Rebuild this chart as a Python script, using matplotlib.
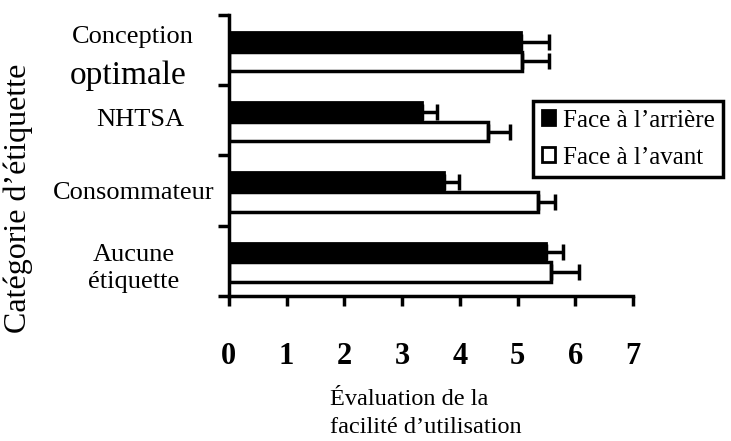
import numpy as np
import matplotlib
matplotlib.use("Agg")
import matplotlib.pyplot as plt
import matplotlib.transforms as mtransforms

plt.rcParams['font.family'] = ['Liberation Serif', 'DejaVu Serif']

# categories listed bottom to top
categories = ["Aucune\nétiquette", "Consommateur", "NHTSA", "Conception\noptimale"]
rear = [5.49, 3.72, 3.34, 5.06]
rear_err = [0.29, 0.26, 0.26, 0.49]
front = [5.58, 5.35, 4.49, 5.07]
front_err = [0.48, 0.29, 0.38, 0.48]
series_names = ["Face à l’arrière", "Face à l’avant"]
xticks = [0, 1, 2, 3, 4, 5, 6, 7]

fig = plt.figure(figsize=(7.31, 4.41), dpi=100)
ax = fig.add_axes([0.313, 0.329, 0.553, 0.637])

y = np.arange(len(categories))
h = 0.28
err_kw = dict(ecolor='black', elinewidth=2.5, capsize=6, capthick=2.5)
ax.barh(y + 0.12, rear, height=h, color='black', edgecolor='black', linewidth=2,
        xerr=[np.zeros(len(rear)), rear_err], error_kw=err_kw, label=series_names[0])
ax.barh(y - 0.16, front, height=h, color='white', edgecolor='black', linewidth=2.5,
        xerr=[np.zeros(len(front)), front_err], error_kw=err_kw, label=series_names[1])

ax.set_xlim(0, 7)
ax.set_ylim(-0.5, len(categories) - 0.5)

for s in ['top', 'right']:
    ax.spines[s].set_visible(False)
for s in ['left', 'bottom']:
    ax.spines[s].set_linewidth(2.5)

ax.set_xticks(xticks)
ax.set_xticklabels([str(t) for t in xticks], fontsize=22, fontweight='bold')
ax.tick_params(axis='x', direction='out', length=7, width=2.5, pad=26)

# tick marks sit on the group boundaries, labels are drawn as text
ax.set_yticks(np.arange(len(categories) + 1) - 0.5)
ax.set_yticklabels([])
ax.tick_params(axis='y', direction='out', length=8, width=2.5)

trans = mtransforms.blended_transform_factory(ax.transAxes, ax.transData)
for yi, lab in zip(y, categories):
    if lab.startswith("Conception"):
        ax.text(-0.238, yi + 0.19, "Conception", transform=trans, ha='center', va='center', fontsize=19)
        ax.text(-0.25, yi - 0.36, "optimale", transform=trans, ha='center', va='center', fontsize=24)
    elif lab == "NHTSA":
        ax.text(-0.22, yi, lab, transform=trans, ha='center', va='center', fontsize=19)
    elif "\n" in lab:
        ax.text(-0.235, yi - 0.11, lab, transform=trans, ha='center', va='center', fontsize=19,
                linespacing=1.25)
    else:
        ax.text(-0.235, yi - 0.03, lab, transform=trans, ha='center', va='center', fontsize=19)

fig.text(0.025, 0.55, "Catégorie d’étiquette", rotation=90, ha='center', va='center', fontsize=23)
fig.text(0.451, 0.063, "Évaluation de la\nfacilité d’utilisation", ha='left', va='center',
         fontsize=17.5, linespacing=1.45)

leg = ax.legend(loc='upper left', bbox_to_anchor=(0.752, 0.694), borderaxespad=0, fontsize=18,
                frameon=True, fancybox=False, edgecolor='black', framealpha=1,
                handlelength=0.55, handleheight=0.55, handletextpad=0.3,
                borderpad=0.35, labelspacing=0.6)
leg.get_frame().set_linewidth(2.5)
for p in leg.get_patches():
    p.set_linewidth(2)

fig.savefig("out.png", dpi=100)
